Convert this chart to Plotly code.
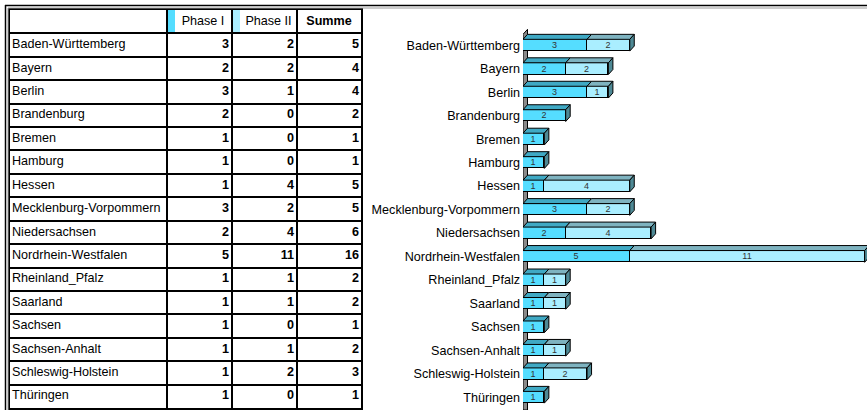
import plotly.graph_objects as go

W, H = 867, 410

# ---------------- data ----------------
states = ["Baden-Württemberg", "Bayern", "Berlin", "Brandenburg", "Bremen", "Hamburg",
          "Hessen", "Mecklenburg-Vorpommern", "Niedersachsen", "Nordrhein-Westfalen",
          "Rheinland_Pfalz", "Saarland", "Sachsen", "Sachsen-Anhalt",
          "Schleswig-Holstein", "Thüringen"]
phase1 = [3, 2, 3, 2, 1, 1, 1, 3, 2, 5, 1, 1, 1, 1, 1, 1]
phase2 = [2, 2, 1, 0, 0, 0, 4, 2, 4, 11, 1, 1, 0, 1, 2, 0]
summe = [5, 4, 4, 2, 1, 1, 5, 5, 6, 16, 2, 2, 1, 2, 3, 1]
headers = ["Phase I", "Phase II", "Summe"]

# ---------------- style ----------------
FONT = "Arial, 'Liberation Sans', sans-serif"
FS = 12.6
C1, C2 = "#55DDFF", "#AAEEFF"
C1_TOP, C2_TOP, SIDE = "#3FA9C4", "#7EB3C0", "#4E8995"

# chart geometry (pixels)
X0_PX, UNIT_PX = 523, 21.35
ROW0_PX, ROW_PX = 45.2, 23.47
TOP_PX, BOT_PX = 10, 410
xr = [0, (W - X0_PX) / UNIT_PX]
yr = [(BOT_PX - ROW0_PX) / ROW_PX, (TOP_PX - ROW0_PX) / ROW_PX]
BW = 0.5
DX = 4.5 / UNIT_PX
DY = 5.0 / ROW_PX

n = len(states)
idx = list(range(n))

fig = go.Figure()

# front faces
for vals, col, name in [(phase1, C1, "Phase I"), (phase2, C2, "Phase II")]:
    fig.add_trace(go.Bar(
        y=idx, x=vals, orientation="h", name=name, width=BW,
        marker=dict(color=col, line=dict(color="black", width=1)),
        text=[str(v) if v else "" for v in vals],
        textposition="inside", insidetextanchor="middle", textangle=0,
        constraintext="none",
        textfont=dict(size=9, color="#333333", family=FONT),
        hoverinfo="skip", xaxis="x", yaxis="y"))

# 3D top / side faces
def add_poly(xs, ys, pts):
    for px_, py_ in pts:
        xs.append(px_)
        ys.append(py_)
    xs.append(pts[0][0]); ys.append(pts[0][1])
    xs.append(None); ys.append(None)

t1x, t1y, t2x, t2y, sx, sy = [], [], [], [], [], []
for i in idx:
    yt = i - BW / 2
    yb = i + BW / 2
    a, b = 0, phase1[i]
    add_poly(t1x, t1y, [(a, yt), (b, yt), (b + DX, yt - DY), (a + DX, yt - DY)])
    end = phase1[i]
    if phase2[i]:
        c = phase1[i] + phase2[i]
        add_poly(t2x, t2y, [(b, yt), (c, yt), (c + DX, yt - DY), (b + DX, yt - DY)])
        end = c
    add_poly(sx, sy, [(end, yt), (end + DX, yt - DY), (end + DX, yb - DY), (end, yb)])

for xs, ys, col in [(t1x, t1y, C1_TOP), (t2x, t2y, C2_TOP), (sx, sy, SIDE)]:
    fig.add_trace(go.Scatter(x=xs, y=ys, mode="lines", fill="toself", fillcolor=col,
                             line=dict(color="black", width=1), hoverinfo="skip",
                             showlegend=False, xaxis="x", yaxis="y"))

# ---------------- table ----------------
TW = 351  # table width in px units
col_bounds = [157, 222, 287]
row_names = list(range(1, n + 1))

fig.add_trace(go.Scatter(x=[2] * n, y=row_names, text=states, mode="text",
                         textposition="middle right",
                         textfont=dict(size=FS, color="black", family=FONT),
                         hoverinfo="skip", xaxis="x2", yaxis="y2"))
for vals, xr_ in [(phase1, 219), (phase2, 284), (summe, 349)]:
    fig.add_trace(go.Scatter(x=[xr_] * n, y=row_names, text=[f"<b>{v}</b>" for v in vals],
                             mode="text", textposition="middle left",
                             textfont=dict(size=FS, color="black", family=FONT),
                             hoverinfo="skip", xaxis="x2", yaxis="y2"))
fig.add_trace(go.Scatter(x=[193, 258.5, 319], y=[0, 0, 0],
                         text=[headers[0], headers[1], "<b>" + headers[2] + "</b>"],
                         mode="text", textposition="middle center",
                         textfont=dict(size=FS, color="black", family=FONT),
                         hoverinfo="skip", xaxis="x2", yaxis="y2"))

shapes = []
# header swatches
for x0, col in [(157, C1), (222, C2)]:
    shapes.append(dict(type="rect", xref="x2", yref="y2", x0=x0, x1=x0 + 8, y0=-0.5, y1=0.5,
                       fillcolor=col, line=dict(width=0), layer="below"))

# wall of 3D chart
wt = -BW / 2 - DY
wb = yr[0]
shapes.append(dict(type="path", xref="x", yref="y", layer="below",
                   path=f"M 0,{wt} L {DX},{wt - DY} L {DX},{wb} L 0,{wb} Z",
                   fillcolor="#8a8a8a", line=dict(color="black", width=1)))

# outer frame
def lp(x0, y0, x1, y1, col, w):
    return dict(type="line", xref="paper", yref="paper", x0=x0 / W, x1=x1 / W,
                y0=1 - y0 / H, y1=1 - y1 / H, line=dict(color=col, width=w))
shapes += [lp(5, 5.5, W, 5.5, "black", 1.5), lp(5.5, 5, 5.5, H, "black", 1.5),
           lp(8, 8, W, 8, "#9a9a9a", 1), lp(8, 8, 8, H, "#9a9a9a", 1)]

fig.update_layout(
    width=W, height=H, margin=dict(l=0, r=0, t=0, b=0),
    paper_bgcolor="white", plot_bgcolor="rgba(0,0,0,0)",
    barmode="stack", showlegend=False, bargap=0,
    font=dict(family=FONT, size=FS, color="black"),
    shapes=shapes,
    xaxis=dict(domain=[X0_PX / W, 1], range=xr, visible=False, fixedrange=True),
    yaxis=dict(domain=[1 - BOT_PX / H, 1 - TOP_PX / H], range=yr, anchor="x",
               tickvals=idx, ticktext=states, ticks="", showgrid=False, zeroline=False,
               showline=False, ticklabelstandoff=2,
               tickfont=dict(size=FS, color="black", family=FONT)),
    xaxis2=dict(domain=[10 / W, 361 / W], range=[0, TW], anchor="y2",
                tickvals=col_bounds, showticklabels=False, ticks="",
                showgrid=True, gridcolor="black", gridwidth=2, zeroline=False,
                showline=True, mirror=True, linecolor="black", linewidth=2),
    yaxis2=dict(domain=[1 - 408 / H, 1 - 10 / H], range=[n + 0.5, -0.5], anchor="x2",
                tickvals=[k + 0.5 for k in range(n)], showticklabels=False, ticks="",
                showgrid=True, gridcolor="black", gridwidth=2, zeroline=False,
                showline=True, mirror=True, linecolor="black", linewidth=2),
)

fig.write_html("out.html", config={"displayModeBar": False},
               post_script="document.body.style.margin='0';document.body.style.overflow='hidden';")
